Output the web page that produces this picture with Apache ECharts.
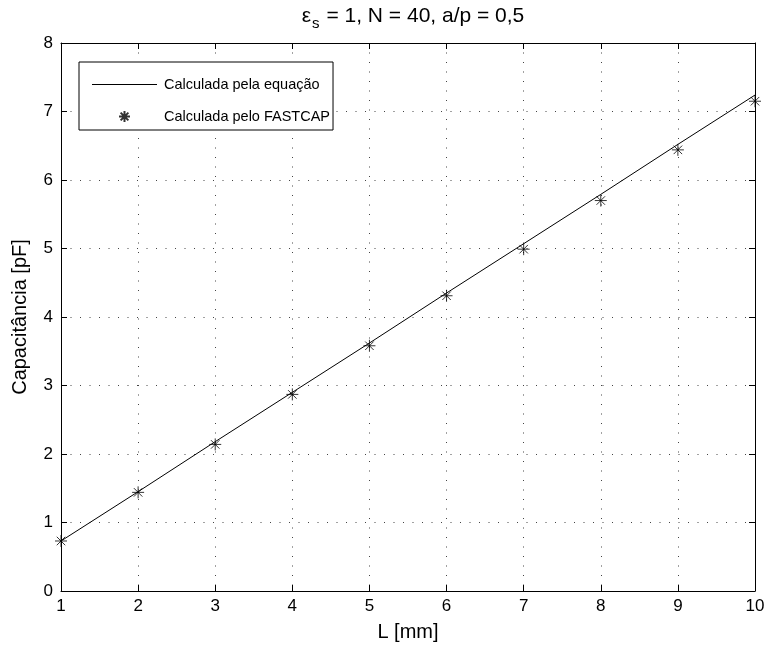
<!DOCTYPE html>
<html>
<head>
<meta charset="utf-8">
<script src="https://cdn.jsdelivr.net/npm/echarts@6/dist/echarts.min.js"></script>
<style>
  html, body { margin: 0; padding: 0; background: #fff; }
  #chart { width: 768px; height: 650px; }
</style>
</head>
<body>
<div id="chart"></div>
<script>
// Length of the structure, mm
const lengths = [1, 2, 3, 4, 5, 6, 7, 8, 9, 10];
// Capacitance from the closed-form equation, pF
const capEquation = [0.73, 1.45, 2.18, 2.90, 3.62, 4.35, 5.07, 5.79, 6.52, 7.24];
// Capacitance computed with FASTCAP, pF
const capFastcap = [0.73, 1.44, 2.14, 2.87, 3.58, 4.31, 4.99, 5.70, 6.44, 7.15];
const xTicks = [1, 10, 1];   // min, max, step
const yTicks = [0, 8, 1];

const FONT = 'Liberation Sans, Arial, sans-serif';
const ASTERISK = 'path://M0,-10L0,10M-10,0L10,0M-7.07,-7.07L7.07,7.07M-7.07,7.07L7.07,-7.07';
const LEGEND_LINE = 'path://M0,0L65,0L65,1L0,1Z';

const dotted = { color: '#444', width: 1, type: [1, 8.5] };

const chart = echarts.init(document.getElementById('chart'), null, { renderer: 'canvas' });

const boxAxis = {
  axisLine: { show: true, onZero: false, lineStyle: { color: '#000', width: 1 } },
  axisTick: { show: true, inside: true, length: 6, lineStyle: { color: '#000' } }
};

const titleText = { fontFamily: FONT, fontWeight: 'normal', color: '#000', verticalAlign: 'top' };

const option = {
  animation: false,
  backgroundColor: '#fff',
  textStyle: { fontFamily: FONT, color: '#000' },
  title: {
    left: 408,
    top: 1,
    textAlign: 'center',
    text: '{e|ε}{s|s}{a| = 1, N = 40, a/p = 0,5}',
    textStyle: {
      fontWeight: 'normal',
      rich: {
        e: Object.assign({ fontSize: 21, lineHeight: 22 }, titleText),
        a: Object.assign({ fontSize: 21, lineHeight: 22 }, titleText),
        s: Object.assign({ fontSize: 15, lineHeight: 22, padding: [10, 1, 0, 1] }, titleText)
      }
    }
  },
  legend: {
    orient: 'vertical',
    left: 79,
    top: 62,
    padding: [15, 3, 6, 13],
    itemGap: 17,
    itemWidth: 65,
    itemHeight: 11,
    backgroundColor: '#fff',
    borderColor: '#000',
    borderWidth: 1,
    borderRadius: 0,
    textStyle: { fontFamily: FONT, fontSize: 14.5, color: '#000', padding: [0, 0, 0, 2] },
    data: [
      { name: 'Calculada pela equação', icon: LEGEND_LINE },
      { name: 'Calculada pelo FASTCAP' }
    ]
  },
  grid: { left: 61, right: 13, top: 43, bottom: 59, containLabel: false },
  xAxis: [
    Object.assign({
      type: 'value',
      min: xTicks[0], max: xTicks[1], interval: xTicks[2],
      name: 'L [mm]',
      nameLocation: 'middle',
      nameGap: 31,
      nameTextStyle: { fontFamily: FONT, fontSize: 20, color: '#000' },
      axisLabel: { fontFamily: FONT, fontSize: 17, color: '#000', margin: 7 },
      splitLine: { show: true, lineStyle: dotted }
    }, boxAxis),
    Object.assign({
      type: 'value', position: 'top',
      min: xTicks[0], max: xTicks[1], interval: xTicks[2],
      axisLabel: { show: false },
      splitLine: { show: false }
    }, boxAxis)
  ],
  yAxis: [
    Object.assign({
      type: 'value',
      min: yTicks[0], max: yTicks[1], interval: yTicks[2],
      name: 'Capacitância [pF]',
      nameLocation: 'middle',
      nameGap: 31,
      nameTextStyle: { fontFamily: FONT, fontSize: 20, color: '#000' },
      axisLabel: { fontFamily: FONT, fontSize: 17, color: '#000', margin: 8 },
      splitLine: { show: true, lineStyle: dotted }
    }, boxAxis),
    Object.assign({
      type: 'value', position: 'right',
      min: yTicks[0], max: yTicks[1], interval: yTicks[2],
      axisLabel: { show: false },
      splitLine: { show: false }
    }, boxAxis)
  ],
  series: [
    {
      name: 'Calculada pela equação',
      type: 'line',
      xAxisIndex: 0, yAxisIndex: 0,
      data: lengths.map((x, i) => [x, capEquation[i]]),
      symbol: 'none',
      lineStyle: { color: '#000', width: 1 },
      itemStyle: { color: '#000' },
      z: 3
    },
    {
      name: 'Calculada pelo FASTCAP',
      type: 'scatter',
      xAxisIndex: 0, yAxisIndex: 0,
      data: lengths.map((x, i) => [x, capFastcap[i]]),
      symbol: ASTERISK,
      symbolSize: 12,
      itemStyle: { color: '#000', borderColor: '#000', borderWidth: 1 },
      z: 4
    }
  ]
};

chart.setOption(option);
</script>
</body>
</html>
